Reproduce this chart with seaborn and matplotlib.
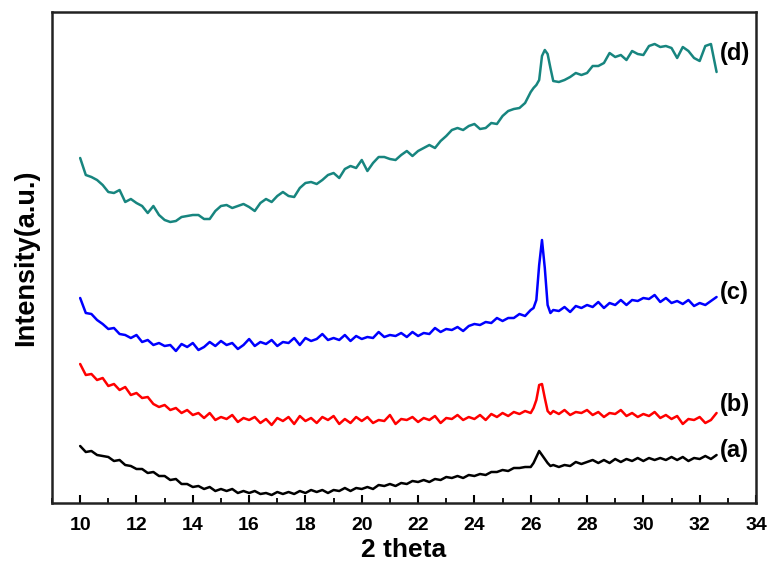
import numpy as np
import pandas as pd
import matplotlib
matplotlib.use("Agg")
import matplotlib.pyplot as plt
from matplotlib.ticker import MultipleLocator
import seaborn as sns

# 2-theta sampling positions
theta = np.concatenate([
    np.round(np.arange(10.0, 25.85, 0.2), 2),
    np.round(np.arange(26.0, 26.75, 0.1), 2),
    np.round(np.arange(26.8, 32.65, 0.2), 2),
])

# Intensities (a.u., offset-stacked as in the figure)
series_d = [345, 328, 326, 323, 318, 311, 310, 313, 301, 304,
            300, 297, 290, 297, 288, 283, 281, 282, 286, 287,
            288, 288, 284, 284, 292, 297, 298, 295, 297, 299,
            296, 292, 300, 304, 301, 307, 311, 307, 306, 315,
            320, 321, 319, 323, 328, 330, 325, 334, 337, 335,
            343, 332, 340, 346, 346, 344, 343, 348, 352, 347,
            352, 355, 358, 355, 362, 367, 373, 375, 373, 377,
            379, 374, 375, 380, 379, 387, 392, 394, 395, 400,
            411, 415, 418, 423, 447, 453, 449, 435,
            422, 421, 423, 426, 430, 428, 430, 437, 437, 440,
            450, 446, 448, 443, 452, 449, 448, 457, 459, 456,
            457, 455, 445, 456, 452, 445, 442, 457, 459, 431]

series_c = [205, 190, 189, 183, 179, 174, 175, 169, 168, 165,
            168, 161, 163, 158, 160, 157, 158, 152, 159, 156,
            160, 153, 156, 161, 157, 162, 158, 160, 154, 158,
            164, 157, 161, 159, 163, 157, 161, 160, 165, 158,
            165, 162, 164, 169, 163, 165, 163, 168, 162, 167,
            164, 166, 165, 171, 166, 168, 167, 170, 166, 171,
            167, 170, 169, 175, 171, 174, 173, 176, 172, 177,
            179, 178, 181, 180, 185, 182, 185, 185, 189, 187,
            193, 195, 203, 238, 263, 235, 198, 190,
            193, 192, 196, 191, 197, 195, 198, 196, 201, 195,
            200, 198, 203, 198, 203, 202, 205, 204, 208, 201,
            205, 200, 202, 199, 203, 197, 200, 198, 202, 206]

series_b = [139, 128, 129, 123, 125, 117, 119, 113, 116, 108,
            110, 105, 106, 99, 96, 98, 93, 95, 90, 93,
            88, 90, 85, 90, 83, 86, 84, 88, 81, 85,
            83, 86, 80, 84, 78, 85, 82, 86, 79, 87,
            82, 85, 80, 86, 83, 87, 79, 84, 80, 86,
            82, 86, 80, 83, 82, 88, 79, 84, 83, 86,
            81, 85, 83, 87, 80, 85, 84, 88, 83, 86,
            84, 88, 83, 89, 86, 90, 87, 91, 89, 92,
            90, 95, 103, 118, 119, 105, 92, 89,
            92, 89, 93, 88, 91, 90, 93, 88, 91, 86,
            90, 89, 93, 87, 90, 86, 89, 87, 91, 85,
            88, 84, 87, 79, 84, 83, 86, 80, 83, 90]

series_a = [57, 51, 52, 48, 47, 46, 42, 43, 38, 37,
            34, 34, 30, 31, 27, 27, 23, 24, 19, 19,
            16, 17, 14, 16, 12, 14, 12, 14, 10, 12,
            10, 12, 9, 10, 8, 11, 9, 11, 9, 12,
            10, 13, 11, 13, 10, 13, 12, 15, 12, 15,
            14, 16, 14, 18, 17, 19, 17, 20, 19, 22,
            21, 23, 21, 24, 23, 26, 25, 27, 25, 28,
            27, 29, 28, 31, 31, 33, 32, 35, 35, 36,
            36, 40, 46, 52, 48, 44, 40, 37,
            38, 36, 38, 37, 41, 39, 41, 43, 40, 43,
            40, 44, 41, 44, 42, 45, 42, 45, 43, 45,
            43, 46, 43, 46, 42, 45, 44, 47, 44, 48]

labels = ["(a)", "(b)", "(c)", "(d)"]
label_y = [53, 98, 211, 450]
colors = ["#000000", "#FF0000", "#0000FF", "#17857F"]

df = pd.concat([
    pd.DataFrame({"theta": theta, "intensity": vals, "sample": lab})
    for lab, vals in zip(labels, [series_a, series_b, series_c, series_d])
], ignore_index=True)

sns.set_theme(style="ticks")
plt.rcParams["font.family"] = ["Liberation Sans", "DejaVu Sans"]
plt.rcParams["text.color"] = "black"
plt.rcParams["axes.labelcolor"] = "black"
plt.rcParams["xtick.color"] = "black"

fig = plt.figure(figsize=(7.69, 5.62), dpi=100)
ax = fig.add_axes([52 / 769, 59 / 562, 704 / 769, 491 / 562])

sns.lineplot(data=df, x="theta", y="intensity", hue="sample",
             palette=dict(zip(labels, colors)), hue_order=labels,
             linewidth=1.8, legend=False, ax=ax, estimator=None, sort=False)

for lab, yv in zip(labels, label_y):
    ax.text(32.7, yv, lab, fontsize=17, fontweight="bold", color="black",
            ha="left", va="center")

ax.set_xlim(9, 34)
ax.set_ylim(0, 491)
ax.xaxis.set_major_locator(MultipleLocator(2))
ax.xaxis.set_minor_locator(MultipleLocator(1))
ax.set_yticks([])
ax.tick_params(axis="x", which="major", direction="in", length=6, width=1.5,
               labelsize=14, pad=10, top=False, colors="black")
ax.tick_params(axis="x", which="minor", direction="in", length=3.5, width=1.3,
               top=False, colors="black")
for lbl in ax.get_xticklabels():
    lbl.set_fontweight("bold")
for sp in ax.spines.values():
    sp.set_linewidth(1.8)
    sp.set_color("#222222")

ax.set_xlabel("2 theta", fontsize=19, fontweight="bold", labelpad=3, color="black")
ax.set_ylabel("Intensity(a.u.)", fontsize=19.5, fontweight="bold", labelpad=9, color="black")

fig.savefig("out.png", dpi=100)
